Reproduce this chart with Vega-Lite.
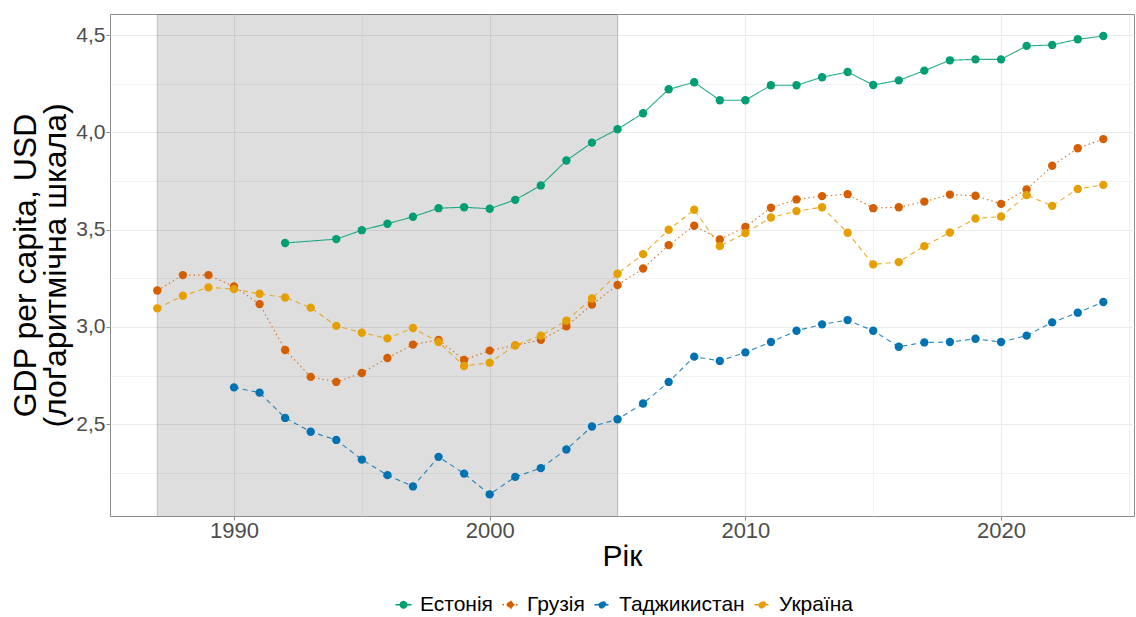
{
  "$schema": "https://vega.github.io/schema/vega-lite/v6.json",
  "width": 1024,
  "height": 502,
  "autosize": "none",
  "padding": {"left": 110, "top": 14, "right": 2, "bottom": 101},
  "background": "white",
  "config": {
    "font": "Liberation Sans",
    "view": {"stroke": "#8C8C8C", "strokeWidth": 1},
    "axis": {"labelFont": "Liberation Sans", "titleFont": "Liberation Sans", "labelColor": "#4D4D4D", "titleFontWeight": "normal", "titleColor": "black", "gridColor": "#EBEBEB", "tickColor": "#8C8C8C", "tickSize": 4, "domain": false}
  },
  "datasets": {
    "gdp": [
      {"country": "Естонія", "year": 1992, "value": 3.431},
      {"country": "Естонія", "year": 1994, "value": 3.451},
      {"country": "Естонія", "year": 1995, "value": 3.497},
      {"country": "Естонія", "year": 1996, "value": 3.530},
      {"country": "Естонія", "year": 1997, "value": 3.566},
      {"country": "Естонія", "year": 1998, "value": 3.610},
      {"country": "Естонія", "year": 1999, "value": 3.615},
      {"country": "Естонія", "year": 2000, "value": 3.607},
      {"country": "Естонія", "year": 2001, "value": 3.653},
      {"country": "Естонія", "year": 2002, "value": 3.727},
      {"country": "Естонія", "year": 2003, "value": 3.855},
      {"country": "Естонія", "year": 2004, "value": 3.947},
      {"country": "Естонія", "year": 2005, "value": 4.016},
      {"country": "Естонія", "year": 2006, "value": 4.098},
      {"country": "Естонія", "year": 2007, "value": 4.221},
      {"country": "Естонія", "year": 2008, "value": 4.257},
      {"country": "Естонія", "year": 2009, "value": 4.165},
      {"country": "Естонія", "year": 2010, "value": 4.165},
      {"country": "Естонія", "year": 2011, "value": 4.242},
      {"country": "Естонія", "year": 2012, "value": 4.242},
      {"country": "Естонія", "year": 2013, "value": 4.283},
      {"country": "Естонія", "year": 2014, "value": 4.310},
      {"country": "Естонія", "year": 2015, "value": 4.243},
      {"country": "Естонія", "year": 2016, "value": 4.267},
      {"country": "Естонія", "year": 2017, "value": 4.317},
      {"country": "Естонія", "year": 2018, "value": 4.370},
      {"country": "Естонія", "year": 2019, "value": 4.375},
      {"country": "Естонія", "year": 2020, "value": 4.375},
      {"country": "Естонія", "year": 2021, "value": 4.444},
      {"country": "Естонія", "year": 2022, "value": 4.449},
      {"country": "Естонія", "year": 2023, "value": 4.478},
      {"country": "Естонія", "year": 2024, "value": 4.495},
      {"country": "Грузія", "year": 1987, "value": 3.187},
      {"country": "Грузія", "year": 1988, "value": 3.266},
      {"country": "Грузія", "year": 1989, "value": 3.266},
      {"country": "Грузія", "year": 1990, "value": 3.208},
      {"country": "Грузія", "year": 1991, "value": 3.117},
      {"country": "Грузія", "year": 1992, "value": 2.881},
      {"country": "Грузія", "year": 1993, "value": 2.743},
      {"country": "Грузія", "year": 1994, "value": 2.717},
      {"country": "Грузія", "year": 1995, "value": 2.763},
      {"country": "Грузія", "year": 1996, "value": 2.840},
      {"country": "Грузія", "year": 1997, "value": 2.909},
      {"country": "Грузія", "year": 1998, "value": 2.933},
      {"country": "Грузія", "year": 1999, "value": 2.830},
      {"country": "Грузія", "year": 2000, "value": 2.878},
      {"country": "Грузія", "year": 2001, "value": 2.905},
      {"country": "Грузія", "year": 2002, "value": 2.933},
      {"country": "Грузія", "year": 2003, "value": 3.003},
      {"country": "Грузія", "year": 2004, "value": 3.115},
      {"country": "Грузія", "year": 2005, "value": 3.215},
      {"country": "Грузія", "year": 2006, "value": 3.300},
      {"country": "Грузія", "year": 2007, "value": 3.420},
      {"country": "Грузія", "year": 2008, "value": 3.520},
      {"country": "Грузія", "year": 2009, "value": 3.449},
      {"country": "Грузія", "year": 2010, "value": 3.514},
      {"country": "Грузія", "year": 2011, "value": 3.612},
      {"country": "Грузія", "year": 2012, "value": 3.655},
      {"country": "Грузія", "year": 2013, "value": 3.672},
      {"country": "Грузія", "year": 2014, "value": 3.682},
      {"country": "Грузія", "year": 2015, "value": 3.610},
      {"country": "Грузія", "year": 2016, "value": 3.615},
      {"country": "Грузія", "year": 2017, "value": 3.644},
      {"country": "Грузія", "year": 2018, "value": 3.680},
      {"country": "Грузія", "year": 2019, "value": 3.674},
      {"country": "Грузія", "year": 2020, "value": 3.632},
      {"country": "Грузія", "year": 2021, "value": 3.706},
      {"country": "Грузія", "year": 2022, "value": 3.828},
      {"country": "Грузія", "year": 2023, "value": 3.918},
      {"country": "Грузія", "year": 2024, "value": 3.965},
      {"country": "Таджикистан", "year": 1990, "value": 2.689},
      {"country": "Таджикистан", "year": 1991, "value": 2.662},
      {"country": "Таджикистан", "year": 1992, "value": 2.532},
      {"country": "Таджикистан", "year": 1993, "value": 2.461},
      {"country": "Таджикистан", "year": 1994, "value": 2.419},
      {"country": "Таджикистан", "year": 1995, "value": 2.318},
      {"country": "Таджикистан", "year": 1996, "value": 2.238},
      {"country": "Таджикистан", "year": 1997, "value": 2.180},
      {"country": "Таджикистан", "year": 1998, "value": 2.332},
      {"country": "Таджикистан", "year": 1999, "value": 2.246},
      {"country": "Таджикистан", "year": 2000, "value": 2.139},
      {"country": "Таджикистан", "year": 2001, "value": 2.229},
      {"country": "Таджикистан", "year": 2002, "value": 2.274},
      {"country": "Таджикистан", "year": 2003, "value": 2.370},
      {"country": "Таджикистан", "year": 2004, "value": 2.488},
      {"country": "Таджикистан", "year": 2005, "value": 2.525},
      {"country": "Таджикистан", "year": 2006, "value": 2.606},
      {"country": "Таджикистан", "year": 2007, "value": 2.717},
      {"country": "Таджикистан", "year": 2008, "value": 2.847},
      {"country": "Таджикистан", "year": 2009, "value": 2.825},
      {"country": "Таджикистан", "year": 2010, "value": 2.869},
      {"country": "Таджикистан", "year": 2011, "value": 2.922},
      {"country": "Таджикистан", "year": 2012, "value": 2.980},
      {"country": "Таджикистан", "year": 2013, "value": 3.013},
      {"country": "Таджикистан", "year": 2014, "value": 3.035},
      {"country": "Таджикистан", "year": 2015, "value": 2.980},
      {"country": "Таджикистан", "year": 2016, "value": 2.898},
      {"country": "Таджикистан", "year": 2017, "value": 2.920},
      {"country": "Таджикистан", "year": 2018, "value": 2.922},
      {"country": "Таджикистан", "year": 2019, "value": 2.939},
      {"country": "Таджикистан", "year": 2020, "value": 2.922},
      {"country": "Таджикистан", "year": 2021, "value": 2.955},
      {"country": "Таджикистан", "year": 2022, "value": 3.023},
      {"country": "Таджикистан", "year": 2023, "value": 3.073},
      {"country": "Таджикистан", "year": 2024, "value": 3.128},
      {"country": "Україна", "year": 1987, "value": 3.095},
      {"country": "Україна", "year": 1988, "value": 3.160},
      {"country": "Україна", "year": 1989, "value": 3.203},
      {"country": "Україна", "year": 1990, "value": 3.194},
      {"country": "Україна", "year": 1991, "value": 3.170},
      {"country": "Україна", "year": 1992, "value": 3.151},
      {"country": "Україна", "year": 1993, "value": 3.099},
      {"country": "Україна", "year": 1994, "value": 3.005},
      {"country": "Україна", "year": 1995, "value": 2.970},
      {"country": "Україна", "year": 1996, "value": 2.941},
      {"country": "Україна", "year": 1997, "value": 2.994},
      {"country": "Україна", "year": 1998, "value": 2.922},
      {"country": "Україна", "year": 1999, "value": 2.799},
      {"country": "Україна", "year": 2000, "value": 2.816},
      {"country": "Україна", "year": 2001, "value": 2.905},
      {"country": "Україна", "year": 2002, "value": 2.955},
      {"country": "Україна", "year": 2003, "value": 3.032},
      {"country": "Україна", "year": 2004, "value": 3.146},
      {"country": "Україна", "year": 2005, "value": 3.273},
      {"country": "Україна", "year": 2006, "value": 3.374},
      {"country": "Україна", "year": 2007, "value": 3.499},
      {"country": "Україна", "year": 2008, "value": 3.602},
      {"country": "Україна", "year": 2009, "value": 3.415},
      {"country": "Україна", "year": 2010, "value": 3.482},
      {"country": "Україна", "year": 2011, "value": 3.562},
      {"country": "Україна", "year": 2012, "value": 3.595},
      {"country": "Україна", "year": 2013, "value": 3.615},
      {"country": "Україна", "year": 2014, "value": 3.484},
      {"country": "Україна", "year": 2015, "value": 3.321},
      {"country": "Україна", "year": 2016, "value": 3.333},
      {"country": "Україна", "year": 2017, "value": 3.415},
      {"country": "Україна", "year": 2018, "value": 3.485},
      {"country": "Україна", "year": 2019, "value": 3.557},
      {"country": "Україна", "year": 2020, "value": 3.567},
      {"country": "Україна", "year": 2021, "value": 3.677},
      {"country": "Україна", "year": 2022, "value": 3.622},
      {"country": "Україна", "year": 2023, "value": 3.709},
      {"country": "Україна", "year": 2024, "value": 3.730}
    ],
    "period": [{"start": 1987, "end": 2005, "low": 2.0, "high": 4.7}]
  },
  "layer": [
    {
      "data": {"name": "period"},
      "mark": {"type": "rect", "fill": "black", "fillOpacity": 0.13, "stroke": "#A0A0A0", "strokeWidth": 1, "strokeOpacity": 0.6, "clip": true},
      "encoding": {
        "x": {"field": "start", "type": "quantitative", "scale": {"domain": [1985.15, 2025.2], "nice": false, "zero": false},
          "title": "Рік",
          "axis": {"values": [1990, 1995, 2000, 2005, 2010, 2015, 2020, 2025],
            "labelExpr": "datum.value % 10 === 0 ? datum.label : ''",
            "format": "d",
            "labelFontSize": 22, "titleFontSize": 30,
            "gridWidth": {"condition": {"test": "datum.value % 10 === 0", "value": 1.1}, "value": 0.6},
            "tickOpacity": {"condition": {"test": "datum.value % 10 === 0", "value": 1}, "value": 0},
            "labelPadding": 0, "titlePadding": 0}},
        "x2": {"field": "end"},
        "y": {"field": "low", "type": "quantitative", "scale": {"domain": [2.028, 4.608], "nice": false, "zero": false},
          "title": ["GDP per capita, USD", "(лоґаритмічна шкала)"],
          "axis": {"values": [2.25, 2.5, 2.75, 3.0, 3.25, 3.5, 3.75, 4.0, 4.25, 4.5],
            "grid": true,
            "labelExpr": "(datum.value * 2) % 1 === 0 ? replace(format(datum.value, '.1f'), '.', ',') : ''",
            "labelFontSize": 21, "titleFontSize": 32,
            "gridWidth": {"condition": {"test": "(datum.value * 2) % 1 === 0", "value": 1.1}, "value": 0.6},
            "tickOpacity": {"condition": {"test": "(datum.value * 2) % 1 === 0", "value": 1}, "value": 0},
            "labelPadding": 1, "titlePadding": 3, "titleLineHeight": 30}},
        "y2": {"field": "high"}
      }
    },
    {
      "data": {"name": "gdp"},
      "mark": {"type": "line", "strokeWidth": 1.1, "opacity": 0.85},
      "encoding": {
        "x": {"field": "year", "type": "quantitative"},
        "y": {"field": "value", "type": "quantitative"},
        "color": {"field": "country", "type": "nominal", "scale": {"domain": ["Естонія", "Грузія", "Таджикистан", "Україна"], "range": ["#009E73", "#D55E00", "#0072B2", "#E69F00"]}},
        "strokeDash": {"field": "country", "type": "nominal", "scale": {"domain": ["Естонія", "Грузія", "Таджикистан", "Україна"], "range": [[1, 0], [1.5, 3], [5, 4], [5, 4]]}, "legend": null}
      }
    },
    {
      "data": {"name": "gdp"},
      "mark": {"type": "point", "filled": true, "opacity": 1, "size": 70},
      "encoding": {
        "x": {"field": "year", "type": "quantitative"},
        "y": {"field": "value", "type": "quantitative"},
        "color": {"field": "country", "type": "nominal",
          "legend": {"title": null, "orient": "none", "direction": "horizontal", "legendX": 283, "legendY": 580,
            "labelFontSize": 21, "labelColor": "black", "labelFont": "Liberation Sans",
            "symbolType": "M-1,0H1M-0.4,0A0.4,0.4 0 1,0 0.4,0A0.4,0.4 0 1,0 -0.4,0Z",
            "symbolSize": 256, "symbolStrokeWidth": 1.5, "symbolOpacity": 1, "columnPadding": 6, "labelOffset": 6,
            "encode": {"symbols": {"update": {"stroke": {"scale": "color", "field": "value"}, "fill": {"scale": "color", "field": "value"}, "strokeWidth": {"value": 1.5}}}}}}
      }
    }
  ]
}
